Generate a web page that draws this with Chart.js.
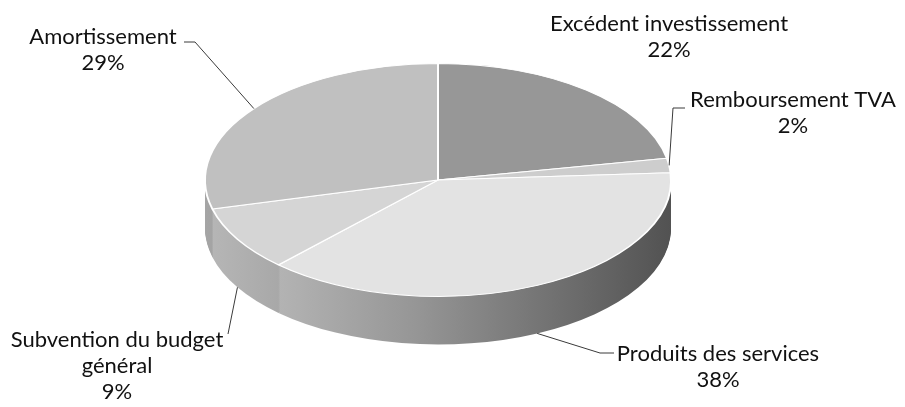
<!DOCTYPE html>
<html>
<head>
<meta charset="utf-8">
<script src="https://cdn.jsdelivr.net/npm/chart.js@4.4.1/dist/chart.umd.min.js"></script>
<style>
  html, body { margin: 0; padding: 0; background: #ffffff; }
  #c { display: block; }
</style>
</head>
<body>
<canvas id="c" width="905" height="407"></canvas>
<script>
// ---- data ----
const categories = [
  'Excédent investissement',
  'Remboursement TVA',
  'Produits des services',
  ['Subvention du budget', 'général'],
  'Amortissement'
];
const values = [22, 2, 38, 9, 29];

// ---- styles ----
const topColors = ['#979797', '#cdcdcd', '#e3e3e3', '#d5d5d5', '#c0c0c0'];
const X_STRETCH = 2.0;     // ellipse width / height
const DEPTH_RATIO = 0.41;  // side depth relative to radius
const FONT = '22px Lato, "Open Sans", sans-serif';
const LINE_H = 26;
// label layout: text centre x, first baseline y, optional elbow and end of leader line
const labelLayout = [
  { x: 669, y: 31 },
  { x: 793, y: 107, elbow: [673, 108], end: [685, 108] },
  { x: 718, y: 361, elbow: [600, 353], end: [614, 353] },
  { x: 117, y: 347, end: [228, 334] },
  { x: 103, y: 44, elbow: [195, 42], end: [184, 42] }
];

function shade(hex, f) {
  const n = parseInt(hex.slice(1), 16);
  const r = Math.round(((n >> 16) & 255) * f);
  const g = Math.round(((n >> 8) & 255) * f);
  const b = Math.round((n & 255) * f);
  return `rgb(${r},${g},${b})`;
}

const pie3d = {
  id: 'pie3d',
  beforeDatasetsDraw(chart) {
    const ctx = chart.ctx;
    const arcs = chart.getDatasetMeta(0).data;
    const cx = arcs[0].x, cy = arcs[0].y, r = arcs[0].outerRadius;
    const depth = Math.round(r * DEPTH_RATIO);
    ctx.save();
    ctx.translate(cx, cy); ctx.scale(X_STRETCH, 1); ctx.translate(-cx, -cy);
    const fills = arcs.map((arc, i) => {
      const g = ctx.createLinearGradient(cx - r, 0, cx + r, 0);
      const c = topColors[i];
      g.addColorStop(0, shade(c, 0.86));
      g.addColorStop(0.45, shade(c, 0.66));
      g.addColorStop(1, shade(c, 0.36));
      return g;
    });
    for (let d = depth; d >= 1; d--) {
      ctx.save();
      ctx.translate(0, d);
      arcs.forEach((arc, i) => {
        const proxy = Object.create(arc);
        proxy.options = Object.assign({}, arc.options, { backgroundColor: fills[i], borderWidth: 0 });
        arc.draw.call(proxy, ctx);
      });
      ctx.restore();
    }
  },
  afterDatasetsDraw(chart) {
    const ctx = chart.ctx;
    ctx.restore();
    const arcs = chart.getDatasetMeta(0).data;
    const cx = arcs[0].x, cy = arcs[0].y, r = arcs[0].outerRadius;
    const depth = Math.round(r * DEPTH_RATIO);
    const total = values.reduce((a, b) => a + b, 0);
    ctx.save();
    ctx.font = FONT;
    ctx.textAlign = 'center';
    ctx.textBaseline = 'alphabetic';
    arcs.forEach((arc, i) => {
      const L = labelLayout[i];
      const mid = (arc.startAngle + arc.endAngle) / 2;
      const s = Math.sin(mid);
      const ax = cx + X_STRETCH * r * Math.cos(mid);
      const ay = cy + r * s + (s > 0 ? depth : 0);
      if (L.end) {
        ctx.beginPath();
        ctx.strokeStyle = '#3a3a3a';
        ctx.lineWidth = 1;
        ctx.moveTo(ax, ay);
        if (L.elbow) ctx.lineTo(L.elbow[0], L.elbow[1]);
        ctx.lineTo(L.end[0], L.end[1]);
        ctx.stroke();
      }
      const lines = [].concat(categories[i]);
      lines.push(Math.round(values[i] / total * 100) + '%');
      ctx.fillStyle = '#111111';
      lines.forEach((t, k) => ctx.fillText(t, L.x, L.y + k * LINE_H));
    });
    ctx.restore();
  }
};

new Chart(document.getElementById('c'), {
  type: 'pie',
  data: {
    labels: categories,
    datasets: [{
      data: values,
      backgroundColor: topColors,
      borderColor: '#ffffff',
      borderWidth: 1,
      hoverOffset: 0,
      offset: 0,
      clip: false
    }]
  },
  options: {
    responsive: false,
    animation: false,
    events: [],
    rotation: 0,
    layout: { padding: { top: 63, bottom: 110, left: 321, right: 350 } },
    plugins: { legend: { display: false }, tooltip: { enabled: false } }
  },
  plugins: [pie3d]
});
</script>
</body>
</html>
